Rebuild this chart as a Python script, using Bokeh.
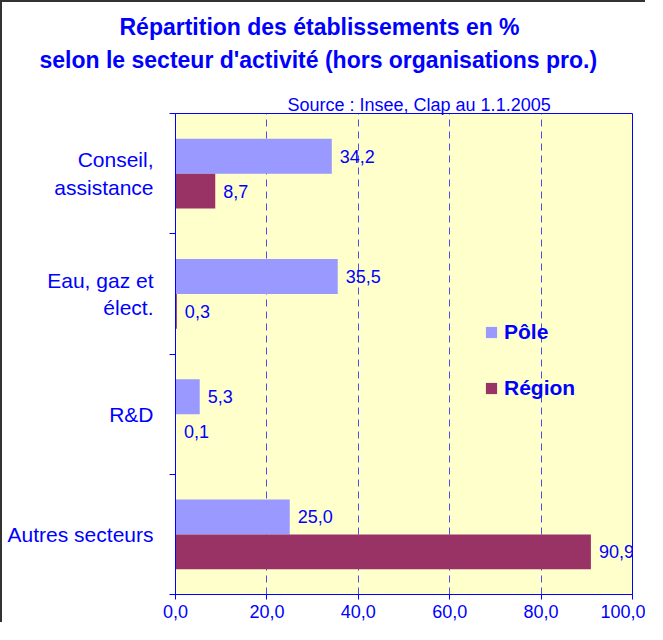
from bokeh.plotting import figure
from bokeh.models import FixedTicker, Title, ColumnDataSource, Legend, LegendItem
from bokeh.core.properties import value
from bokeh.embed import file_html
from bokeh.resources import INLINE

# ---- data ----
categories = ["Conseil,\nassistance", "Eau, gaz et\nélect.", "R&D", "Autres secteurs"]
pole = [34.2, 35.5, 5.3, 25.0]
region = [8.7, 0.3, 0.1, 90.9]
x_ticks = [0, 20, 40, 60, 80, 100]
x_tick_labels = ["0,0", "20,0", "40,0", "60,0", "80,0", "100,0"]
series_names = ["Pôle", "Région"]
title_lines = ["Répartition des établissements en %",
               "selon le secteur d'activité (hors organisations pro.)"]
source_text = "Source : Insee, Clap au 1.1.2005"

FONT = "Liberation Sans"
BLUE = "#0000FF"
C_POLE = "#9999FF"
C_REG = "#993366"

n = len(categories)
centers = [n - 0.5 - i for i in range(n)]
bar_h = 0.29
off = bar_h / 2


def fr(v):
    return f"{v:.1f}".replace(".", ",")


src_p = ColumnDataSource(dict(y=[c + off for c in centers], v=pole, lab=[fr(v) for v in pole]))
src_r = ColumnDataSource(dict(y=[c - off for c in centers], v=region, lab=[fr(v) for v in region]))

p = figure(width=645, height=622, x_range=(0, 100), y_range=(0, n),
           output_backend="svg", toolbar_location=None,
           min_border_left=173, min_border_right=15, min_border_top=111, min_border_bottom=30,
           background_fill_color="#FFFFCC", border_fill_color="white",
           outline_line_color=BLUE, outline_line_width=1)
p.styles = {"border-left": "2px solid #333333", "border-top": "2px solid #333333"}

rp = p.hbar(y="y", left=0, right="v", height=bar_h, source=src_p, fill_color=C_POLE, line_color=None)
rr = p.hbar(y="y", left=0, right="v", height=bar_h, source=src_r, fill_color=C_REG, line_color=None)

for s in (src_p, src_r):
    p.text(x="v", y="y", text="lab", source=s, x_offset=8, text_baseline="middle", text_align="left",
           text_font=value(FONT), text_font_size="18px", text_color=BLUE)

# titles (nearest to frame first)
p.add_layout(Title(text=source_text, align="left", offset=112,
                   text_font=FONT, text_font_size="18px", text_font_style="normal",
                   text_color=BLUE, standoff=-3), "above")
p.add_layout(Title(text=title_lines[1], align="left", offset=-136,
                   text_font=FONT, text_font_size="23px", text_font_style="bold",
                   text_color=BLUE, standoff=43), "above")
p.add_layout(Title(text=title_lines[0], align="left", offset=-56,
                   text_font=FONT, text_font_size="23px", text_font_style="bold",
                   text_color=BLUE, standoff=-32), "above")

# y axis
p.yaxis.ticker = FixedTicker(ticks=centers, minor_ticks=list(range(n + 1)))
p.yaxis.major_label_overrides = {c: categories[i] for i, c in enumerate(centers)}
p.yaxis.major_tick_out = 0
p.yaxis.major_tick_in = 0
p.yaxis.minor_tick_out = 6
p.yaxis.minor_tick_in = 0
p.yaxis.minor_tick_line_color = BLUE
p.yaxis.axis_line_color = BLUE
p.yaxis.major_label_text_font = FONT
p.yaxis.major_label_text_font_size = "21px"
p.yaxis.major_label_text_color = BLUE
p.yaxis.major_label_standoff = 16

# x axis
p.xaxis.ticker = FixedTicker(ticks=x_ticks, minor_ticks=[])
p.xaxis.major_label_overrides = {t: l for t, l in zip(x_ticks, x_tick_labels)}
p.xaxis.major_tick_out = 5
p.xaxis.major_tick_in = 0
p.xaxis.major_tick_line_color = BLUE
p.xaxis.axis_line_color = BLUE
p.xaxis.major_label_text_font = FONT
p.xaxis.major_label_text_font_size = "18px"
p.xaxis.major_label_text_color = BLUE
p.xaxis.major_label_standoff = 5

p.xgrid.grid_line_color = BLUE
p.xgrid.grid_line_dash = "7 5"
p.xgrid.grid_line_alpha = 0.7
p.ygrid.visible = False

legend = Legend(items=[LegendItem(label=series_names[0], renderers=[rp]),
                       LegendItem(label=series_names[1], renderers=[rr])],
                location=(309, 194), padding=0, margin=0, spacing=32,
                glyph_width=14, glyph_height=14, label_height=14, label_standoff=6,
                label_text_font=FONT, label_text_font_size="21px", label_text_font_style="bold",
                label_text_color=BLUE, background_fill_alpha=0, border_line_color=None)
p.add_layout(legend, "center")

open("out.html", "w").write(file_html(p, INLINE))
